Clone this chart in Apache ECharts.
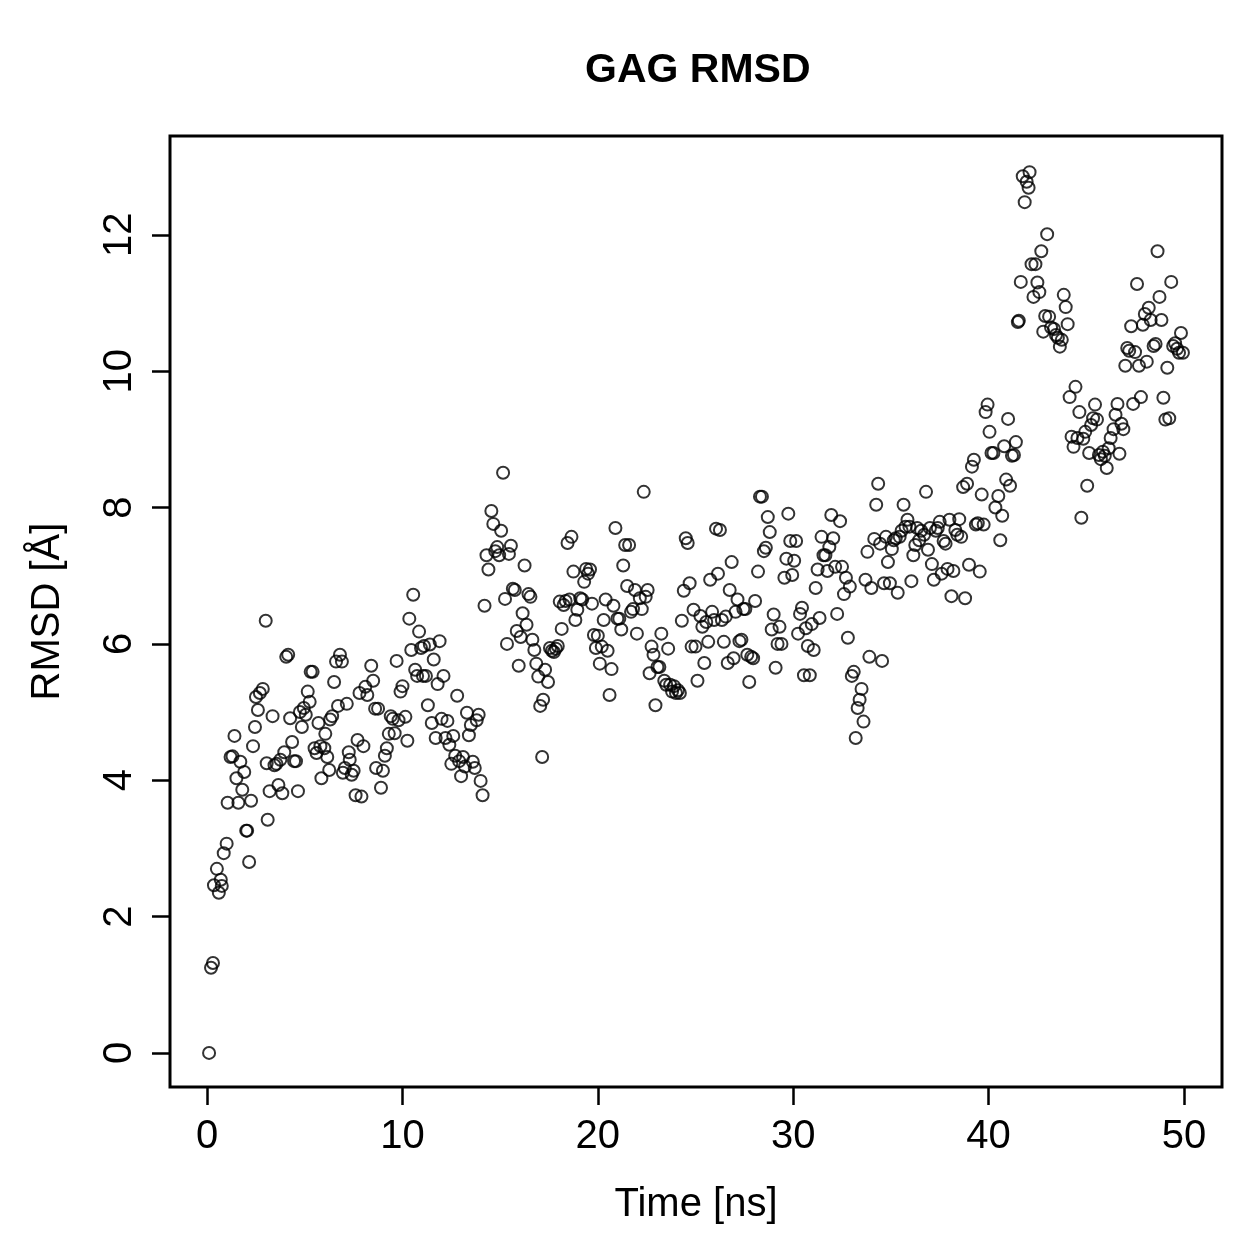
<!DOCTYPE html>
<html>
<head>
<meta charset="utf-8">
<script src="https://cdn.jsdelivr.net/npm/echarts@6/dist/echarts.min.js"></script>
<style>
  html, body { margin: 0; padding: 0; background: #fff; }
  #chart { width: 1259px; height: 1259px; }
</style>
</head>
<body>
<div id="chart"></div>
<script>
// time (ns) and RMSD (Å)
const timeNs = [
  0.1, 0.2, 0.3, 0.35, 0.5, 0.6, 0.7, 0.75, 0.85, 1.0,
  1.05, 1.2, 1.3, 1.4, 1.5, 1.6, 1.7, 1.8, 1.9, 2.0,
  2.05, 2.15, 2.25, 2.35, 2.45, 2.5, 2.6, 2.7, 2.85, 3.0,
  3.05, 3.1, 3.2, 3.35, 3.45, 3.55, 3.65, 3.75, 3.85, 3.95,
  4.05, 4.15, 4.25, 4.35, 4.45, 4.55, 4.65, 4.75, 4.85, 4.95,
  5.05, 5.15, 5.25, 5.3, 5.4, 5.5, 5.6, 5.7, 5.8, 5.85,
  6.0, 6.05, 6.15, 6.25, 6.3, 6.4, 6.5, 6.6, 6.7, 6.8,
  6.9, 6.95, 7.05, 7.15, 7.25, 7.3, 7.4, 7.5, 7.6, 7.7,
  7.8, 7.9, 8.0, 8.1, 8.2, 8.4, 8.5, 8.6, 8.65, 8.75,
  8.9, 9.0, 9.1, 9.2, 9.3, 9.4, 9.5, 9.6, 9.7, 9.8,
  9.9, 10.0, 10.15, 10.25, 10.35, 10.45, 10.55, 10.65, 10.75, 10.85,
  10.95, 11.05, 11.1, 11.2, 11.3, 11.4, 11.5, 11.6, 11.7, 11.8,
  11.9, 12.0, 12.1, 12.2, 12.3, 12.4, 12.5, 12.6, 12.7, 12.8,
  12.9, 13.0, 13.1, 13.2, 13.3, 13.4, 13.5, 13.6, 13.7, 13.8,
  13.9, 14.0, 14.1, 14.2, 14.3, 14.4, 14.55, 14.65, 14.75, 14.85,
  14.95, 15.05, 15.15, 15.25, 15.35, 15.45, 15.55, 15.65, 15.75, 15.85,
  15.95, 16.05, 16.15, 16.25, 16.35, 16.45, 16.55, 16.65, 16.75, 16.85,
  16.95, 17.05, 17.15, 17.2, 17.3, 17.45, 17.55, 17.65, 17.75, 17.85,
  17.95, 18.05, 18.15, 18.25, 18.35, 18.45, 18.55, 18.65, 18.75, 18.85,
  18.95, 19.1, 19.2, 19.3, 19.4, 19.5, 19.6, 19.7, 19.8, 19.9,
  20.0, 20.1, 20.2, 20.3, 20.4, 20.5, 20.6, 20.7, 20.8, 20.9,
  21.0, 21.1, 21.2, 21.3, 21.4, 21.5, 21.6, 21.7, 21.8, 21.9,
  22.0, 22.15, 22.25, 22.35, 22.45, 22.55, 22.65, 22.75, 22.85, 22.95,
  23.05, 23.15, 23.25, 23.4, 23.5, 23.6, 23.7, 23.8, 23.9, 24.0,
  24.1, 24.2, 24.3, 24.4, 24.5, 24.6, 24.7, 24.8, 24.9, 25.0,
  25.1, 25.25, 25.35, 25.45, 25.55, 25.65, 25.75, 25.85, 25.95, 26.05,
  26.15, 26.25, 26.35, 26.45, 26.55, 26.65, 26.75, 26.85, 26.95, 27.05,
  27.15, 27.25, 27.35, 27.45, 27.55, 27.65, 27.75, 27.85, 27.95, 28.05,
  28.2, 28.3, 28.4, 28.5, 28.6, 28.7, 28.8, 28.9, 29.0, 29.1,
  29.2, 29.3, 29.4, 29.55, 29.65, 29.75, 29.85, 29.95, 30.05, 30.15,
  30.25, 30.35, 30.45, 30.55, 30.65, 30.75, 30.85, 30.95, 31.05, 31.15,
  31.25, 31.35, 31.45, 31.55, 31.65, 31.75, 31.85, 31.95, 32.05, 32.15,
  32.25, 32.4, 32.5, 32.6, 32.7, 32.8, 32.9, 33.0, 33.1, 33.2,
  33.3, 33.4, 33.5, 33.6, 33.7, 33.8, 33.9, 34.0, 34.15, 34.25,
  34.35, 34.45, 34.55, 34.65, 34.75, 34.85, 34.95, 35.05, 35.15, 35.25,
  35.35, 35.45, 35.55, 35.65, 35.75, 35.85, 35.95, 36.05, 36.15, 36.25,
  36.35, 36.45, 36.55, 36.7, 36.8, 36.9, 37.0, 37.1, 37.2, 37.3,
  37.4, 37.5, 37.6, 37.7, 37.8, 37.9, 38.0, 38.1, 38.2, 38.3,
  38.4, 38.5, 38.6, 38.7, 38.8, 38.9, 39.0, 39.15, 39.25, 39.35,
  39.45, 39.55, 39.65, 39.75, 39.85, 39.95, 40.05, 40.15, 40.25, 40.35,
  40.5, 40.6, 40.7, 40.8, 40.9, 41.0, 41.1, 41.2, 41.3, 41.4,
  41.5, 41.55, 41.65, 41.75, 41.85, 41.95, 42.05, 42.1, 42.2, 42.3,
  42.4, 42.5, 42.6, 42.7, 42.8, 42.9, 43.0, 43.1, 43.2, 43.35,
  43.45, 43.55, 43.65, 43.75, 43.85, 43.95, 44.05, 44.15, 44.25, 44.35,
  44.45, 44.55, 44.65, 44.75, 44.85, 44.95, 45.05, 45.15, 45.25, 45.35,
  45.45, 45.55, 45.65, 45.75, 45.85, 45.95, 46.05, 46.15, 46.25, 46.4,
  46.5, 46.6, 46.7, 46.8, 46.9, 47.0, 47.1, 47.2, 47.3, 47.4,
  47.5, 47.6, 47.7, 47.8, 47.9, 48.0, 48.1, 48.2, 48.3, 48.45,
  48.55, 48.65, 48.75, 48.85, 48.95, 49.05, 49.15, 49.25, 49.35, 49.45,
  49.55, 49.65, 49.75, 49.85, 49.95,
]

const rmsd = [
  0.0, 1.25, 1.32, 2.46, 2.70, 2.35, 2.54, 2.45, 2.93, 3.07,
  3.67, 4.34, 4.35, 4.65, 4.03, 3.67, 4.27, 3.86, 4.12, 3.26,
  3.26, 2.80, 3.70, 4.50, 4.78, 5.22, 5.03, 5.28, 5.34, 6.34,
  4.25, 3.42, 3.84, 4.94, 4.22, 4.24, 3.93, 4.30, 3.81, 4.41,
  5.81, 5.84, 4.91, 4.56, 4.28, 4.28, 3.84, 5.00, 4.78, 5.06,
  4.96, 5.30, 5.15, 5.59, 5.59, 4.47, 4.40, 4.84, 4.50, 4.03,
  4.47, 4.68, 4.34, 4.15, 4.89, 4.94, 5.44, 5.74, 5.09, 5.84,
  5.74, 4.11, 4.18, 5.12, 4.41, 4.30, 4.08, 4.14, 3.78, 4.59,
  5.28, 3.76, 4.50, 5.37, 5.25, 5.68, 5.46, 5.05, 4.18, 5.05,
  3.89, 4.14, 4.36, 4.47, 4.68, 4.94, 4.90, 4.69, 5.75, 4.88,
  5.30, 5.38, 4.93, 4.58, 6.37, 5.91, 6.72, 5.62, 5.53, 6.18,
  5.94, 5.53, 5.97, 5.53, 5.10, 5.99, 4.84, 5.77, 4.62, 5.41,
  6.04, 4.90, 5.53, 4.62, 4.87, 4.52, 4.24, 4.65, 4.36, 5.24,
  4.28, 4.06, 4.34, 4.20, 4.99, 4.66, 4.81, 4.27, 4.18, 4.88,
  4.96, 3.99, 3.78, 6.56, 7.30, 7.09, 7.95, 7.76, 7.36, 7.42,
  7.30, 7.66, 8.51, 6.66, 6.00, 7.32, 7.44, 6.81, 6.79, 6.19,
  5.68, 6.10, 6.45, 7.15, 6.28, 6.73, 6.69, 6.06, 5.91, 5.71,
  5.52, 5.09, 4.34, 5.18, 5.62, 5.44, 5.94, 5.90, 5.88, 5.93,
  5.97, 6.62, 6.22, 6.57, 6.63, 7.48, 6.65, 7.57, 7.06, 6.35,
  6.50, 6.67, 6.65, 6.91, 7.10, 7.03, 7.09, 6.59, 6.13, 5.94,
  6.12, 5.71, 5.96, 6.35, 6.65, 5.90, 5.25, 5.63, 6.56, 7.70,
  6.37, 6.37, 6.21, 7.15, 7.45, 6.85, 7.45, 6.47, 6.51, 6.79,
  6.15, 6.67, 6.51, 8.23, 6.69, 6.79, 5.57, 5.96, 5.84, 5.10,
  5.66, 5.66, 6.15, 5.46, 5.40, 5.93, 5.40, 5.30, 5.38, 5.28,
  5.32, 5.28, 6.34, 6.78, 7.55, 7.48, 6.89, 5.96, 6.50, 5.96,
  5.46, 6.41, 6.25, 5.72, 6.32, 6.03, 6.94, 6.47, 6.35, 7.69,
  7.03, 7.67, 6.35, 6.03, 6.40, 5.72, 6.79, 7.20, 5.79, 6.47,
  6.65, 6.04, 6.06, 6.51, 6.51, 5.84, 5.44, 5.81, 5.79, 6.63,
  7.06, 8.16, 8.16, 7.36, 7.41, 7.86, 7.64, 6.21, 6.43, 5.65,
  6.00, 6.25, 6.00, 6.97, 7.25, 7.91, 7.51, 7.01, 7.22, 7.51,
  6.15, 6.44, 6.53, 5.54, 6.23, 5.97, 5.54, 6.29, 5.91, 6.82,
  7.09, 6.38, 7.57, 7.30, 7.30, 7.07, 7.42, 7.89, 7.55, 7.13,
  6.44, 7.80, 7.13, 6.73, 6.97, 6.09, 6.84, 5.53, 5.59, 4.62,
  5.06, 5.18, 5.34, 4.86, 6.94, 7.35, 5.81, 6.82, 7.54, 8.04,
  8.35, 7.47, 5.75, 6.89, 7.57, 7.20, 6.89, 7.39, 7.52, 7.55,
  6.75, 7.57, 7.66, 8.04, 7.72, 7.82, 7.72, 6.92, 7.30, 7.45,
  7.70, 7.52, 7.66, 7.60, 8.23, 7.38, 7.70, 7.17, 6.94, 7.66,
  7.70, 7.79, 7.03, 7.51, 7.47, 7.10, 7.82, 6.70, 7.07, 7.67,
  7.60, 7.83, 7.57, 8.30, 6.67, 8.35, 7.16, 8.60, 8.70, 7.75,
  7.77, 7.06, 8.19, 7.75, 9.40, 9.51, 9.11, 8.80, 8.80, 8.00,
  8.17, 7.52, 7.88, 8.90, 8.41, 9.30, 8.32, 8.76, 8.77, 8.96,
  10.72, 10.74, 11.31, 12.86, 12.48, 12.78, 12.69, 12.92, 11.57, 11.09,
  11.57, 11.30, 11.16, 11.76, 10.58, 10.81, 12.01, 10.80, 10.64, 10.62,
  10.53, 10.49, 10.36, 10.46, 11.12, 10.94, 10.69, 9.62, 9.04, 8.89,
  9.77, 9.02, 9.40, 7.85, 9.01, 9.11, 8.32, 8.80, 9.21, 9.31,
  9.51, 9.29, 8.77, 8.71, 8.82, 8.76, 8.58, 8.87, 9.02, 9.15,
  9.36, 9.52, 8.79, 9.23, 9.15, 10.08, 10.34, 10.30, 10.66, 9.52,
  10.28, 11.28, 10.08, 9.62, 10.68, 10.84, 10.14, 10.93, 10.75, 10.37,
  10.40, 11.76, 11.09, 10.75, 9.61, 9.29, 10.05, 9.31, 11.31, 10.37,
  10.41, 10.33, 10.27, 10.56, 10.27,
]

const xTicks = [0, 10, 20, 30, 40, 50]
const yTicks = [0, 2, 4, 6, 8, 10, 12]

const font = 'Liberation Sans, Arial, Helvetica, sans-serif'
const points = timeNs.map((t, i) => [t, rmsd[i]])

const chart = echarts.init(document.getElementById('chart'), null, { renderer: 'canvas' })
chart.setOption({
  backgroundColor: '#fff',
  animation: false,
  textStyle: { fontFamily: font, color: '#000' },
  title: {
    text: 'GAG RMSD',
    left: 580,
    top: 45,
    textStyle: { fontFamily: font, fontSize: 41, fontWeight: 'bold', color: '#000' },
  },
  grid: {
    left: 170,
    right: 37,
    top: 136,
    bottom: 172,
    show: true,
    borderColor: '#000',
    borderWidth: 3,
    backgroundColor: 'transparent',
  },
  xAxis: {
    type: 'value',
    min: -1.9,
    max: 51.95,
    name: 'Time [ns]',
    nameLocation: 'middle',
    nameGap: 98,
    nameTextStyle: { fontSize: 40, color: '#000', fontFamily: font },
    axisLine: { show: false, onZero: false },
    splitLine: { show: false },
    axisTick: {
      show: true,
      length: 18,
      lineStyle: { color: '#000', width: 2.5 },
      customValues: xTicks,
    },
    axisLabel: {
      fontSize: 40,
      color: '#000',
      margin: 30,
      customValues: xTicks,
    },
  },
  yAxis: {
    type: 'value',
    min: -0.5,
    max: 13.45,
    name: 'RMSD [Å]',
    nameLocation: 'middle',
    nameGap: 102,
    nameRotate: 90,
    nameTextStyle: { fontSize: 40, color: '#000', fontFamily: font },
    axisLine: { show: false, onZero: false },
    splitLine: { show: false },
    axisTick: {
      show: true,
      length: 18,
      lineStyle: { color: '#000', width: 2.5 },
      customValues: yTicks,
    },
    axisLabel: {
      fontSize: 40,
      color: '#000',
      rotate: 90,
      margin: 30,
      customValues: yTicks,
    },
  },
  series: [
    {
      type: 'scatter',
      data: points,
      symbol: 'circle',
      symbolSize: 12,
      itemStyle: {
        color: 'rgba(0,0,0,0)',
        borderColor: '#000',
        borderWidth: 2,
      },
      emphasis: { disabled: true },
    },
  ],
})
</script>
</body>
</html>
